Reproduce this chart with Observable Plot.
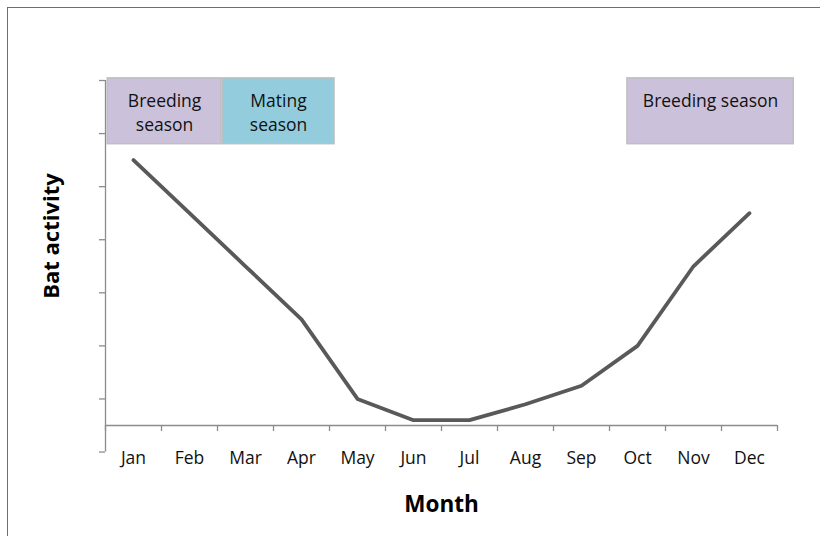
<!DOCTYPE html>
<html>
<head>
<meta charset="utf-8">
<script src="https://cdn.jsdelivr.net/npm/d3@7"></script>
<script src="https://cdn.jsdelivr.net/npm/@observablehq/plot@0.6"></script>
<style>
  html, body { margin: 0; padding: 0; background: #fff; overflow: hidden; }
  #wrap { position: relative; width: 820px; height: 536px; overflow: hidden; }
  #frame { position: absolute; left: 7px; top: 7px; width: 1000px; height: 1000px;
           border-top: 1.5px solid #6e6e6e; border-left: 1.5px solid #6e6e6e; pointer-events: none; }
  svg { display: block; }
</style>
</head>
<body>
<div id="wrap"><div id="frame"></div></div>
<script>
const months = ["Jan","Feb","Mar","Apr","May","Jun","Jul","Aug","Sep","Oct","Nov","Dec"];
const activity = [5.5, 4.5, 3.5, 2.5, 1.0, 0.6, 0.6, 0.9, 1.25, 2.0, 3.5, 4.5];
const yTicks = [0, 1, 2, 3, 4, 5, 6, 7];
const seasonLabels = ["Breeding\nseason", "Mating\nseason", "Breeding season"];
const seasonKind = ["breeding", "mating", "breeding"];
const seasonStart = [0.04, 2.09, 9.32];
const seasonEnd = [2.07, 4.09, 12.29];

const data = months.map((m, i) => ({month: m, pos: i + 0.5, value: activity[i]}));
const seasons = seasonLabels.map((l, i) => ({label: l, kind: seasonKind[i], x1: seasonStart[i], x2: seasonEnd[i]}));
const axisColor = "#8c8c8c";
const font = "'Open Sans', sans-serif";

const chart = Plot.plot({
  width: 820,
  height: 536,
  marginLeft: 105,
  marginRight: 43,
  marginTop: 80,
  marginBottom: 111,
  style: {fontFamily: font, background: "transparent", overflow: "visible"},
  x: {type: "linear", domain: [0, 12], axis: null},
  y: {type: "linear", domain: [0.5, 7], axis: null},
  color: {domain: ["breeding", "mating"], range: ["#ccc1da", "#93cddd"]},
  marks: [
    Plot.rect(seasons, {x1: "x1", x2: "x2", y1: 5.8, y2: 7.04, fill: "kind", stroke: "#bfbfbf", strokeWidth: 1.5}),
    Plot.text(seasons, {x: d => (d.x1 + d.x2) / 2, y: 7.04, text: "label", lineAnchor: "top", dy: 12,
      lineHeight: 1.36, fontSize: 17.5, fill: "#111"}),
    Plot.ruleX([0], {y1: 0, y2: 7, stroke: axisColor, strokeWidth: 1.3}),
    Plot.axisY(yTicks, {tickSize: 6, tickFormat: () => "", label: null, stroke: axisColor, strokeWidth: 1.3}),
    Plot.ruleY([0.5], {x1: 0, x2: 12, stroke: axisColor, strokeWidth: 1.3}),
    Plot.axisX(d3.range(13), {tickSize: 6, tickFormat: () => "", label: null, stroke: axisColor, strokeWidth: 1.3}),
    Plot.axisX(data.map(d => d.pos), {tickSize: 0, tickPadding: 26, fontSize: 17.5, fill: "#111", label: null,
      tickFormat: p => months[Math.floor(p)]}),
    Plot.line(data, {x: "pos", y: "value", stroke: "#595959", strokeWidth: 3.8, strokeLinejoin: "round"}),
    Plot.text(["Bat activity"], {frameAnchor: "left", textAnchor: "middle", rotate: -90, dx: -54, dy: -17,
      fontSize: 22, fontWeight: "bold", fill: "#000"}),
    Plot.text(["Month"], {frameAnchor: "bottom", textAnchor: "middle", dy: 86, fontSize: 22.5, fontWeight: "bold", fill: "#000"})
  ]
});
document.getElementById("wrap").prepend(chart);
</script>
</body>
</html>
